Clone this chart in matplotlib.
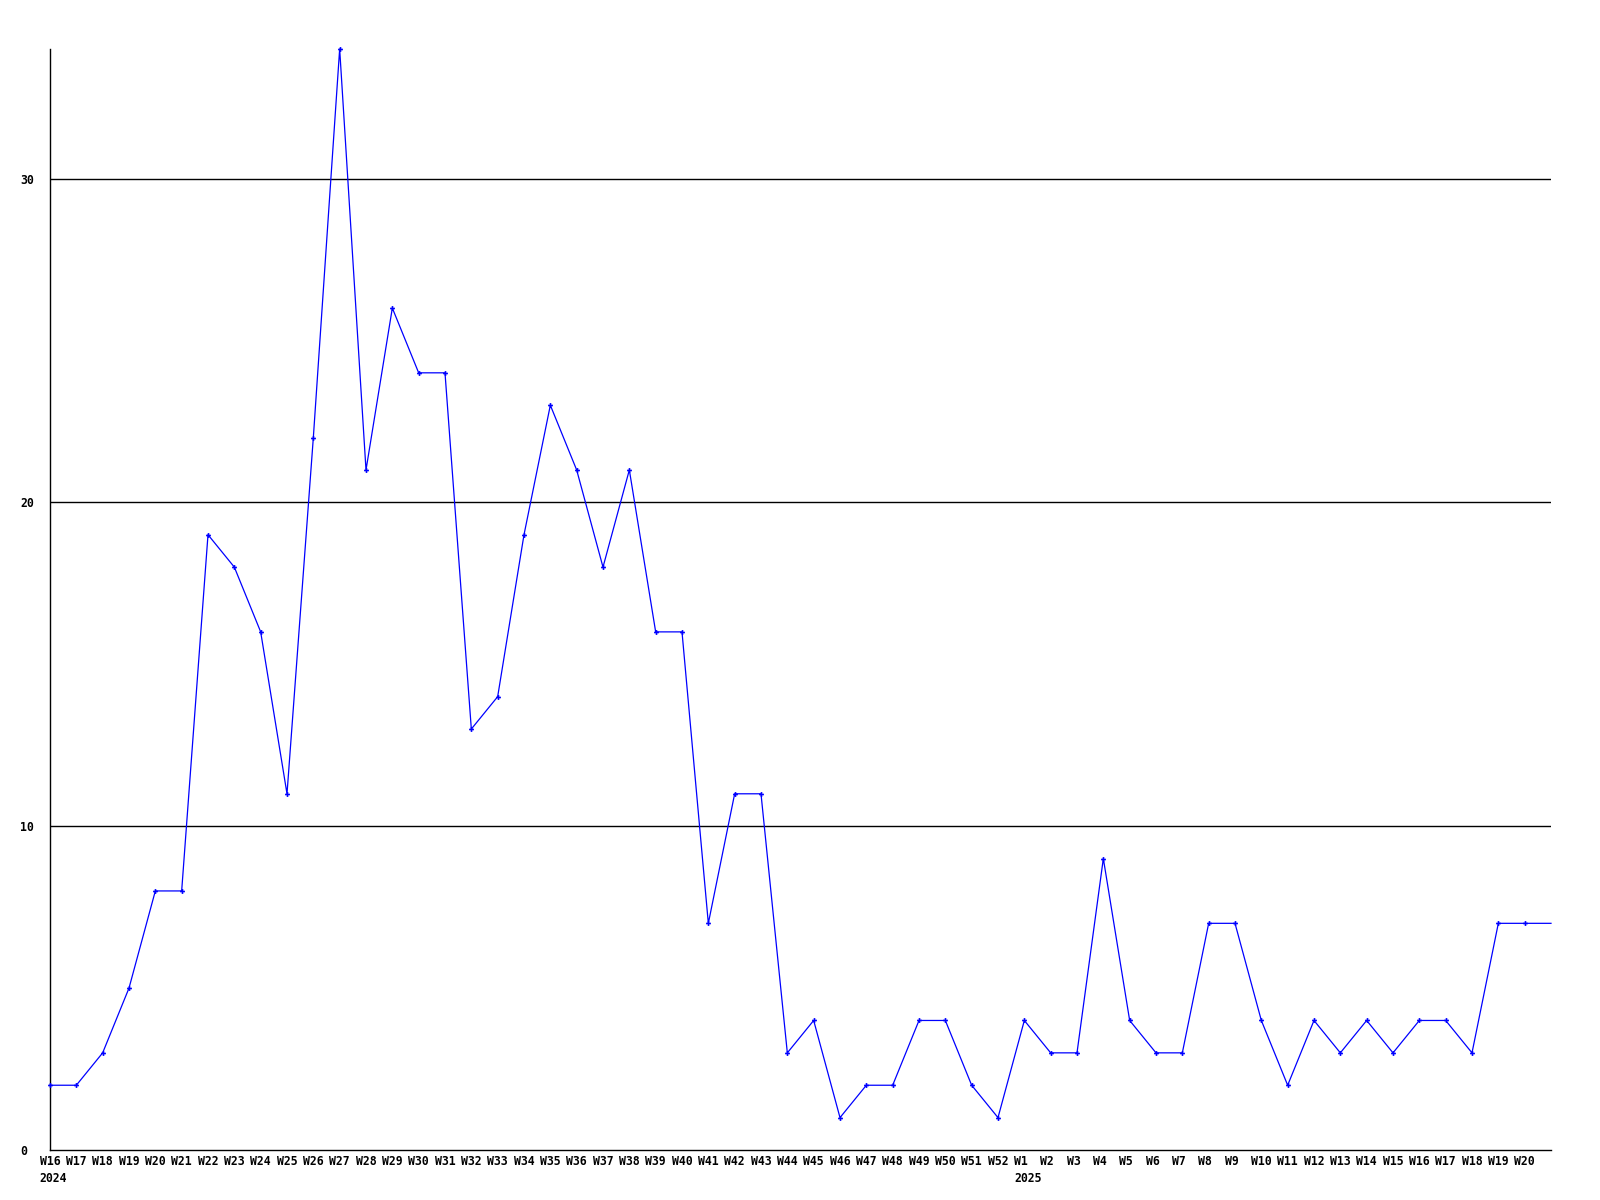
import numpy as np
import matplotlib
matplotlib.use("Agg")
import matplotlib.pyplot as plt
from matplotlib.transforms import ScaledTranslation

weeks_2024 = [f"W{w}" for w in range(16, 53)]
weeks_2025 = [f"W{w}" for w in range(1, 22)]

values_2024 = [2, 2, 3, 5, 8, 8, 19, 18, 16, 11, 22, 34, 21, 26, 24, 24,
               13, 14, 19, 23, 21, 18, 21, 16, 16, 7, 11, 11, 3, 4, 1, 2,
               2, 4, 4, 2, 1]
values_2025 = [4, 3, 3, 9, 4, 3, 3, 7, 7, 4, 2, 4, 3, 4, 3, 4, 4, 3, 7, 7, 7]

labels = weeks_2024 + weeks_2025
values = values_2024 + values_2025
x = np.arange(len(values))

# tick labels: the last week (W21) has no label in the original
tick_labels = []
for i, lab in enumerate(labels[:-1]):
    if lab == "W16" and i == 0:
        tick_labels.append(lab + "\n2024")
    elif lab == "W1":
        tick_labels.append(lab + "\n2025")
    else:
        tick_labels.append(lab)

fig = plt.figure(figsize=(16, 12), dpi=100)
ax = fig.add_axes([50 / 1600, 50 / 1200, 1501 / 1600, 1101 / 1200])

font = {"family": "DejaVu Sans Mono", "weight": "bold", "size": 8.3}

for yv in [10, 20, 30]:
    ax.axhline(yv, color="black", lw=1.0, zorder=1)

ax.plot(x, values, color="#0000ff", lw=0.9, zorder=3, clip_on=False)
ax.plot(x[:-1], values[:-1], ls="none", marker="P", ms=3.5,
        color="#0000ff", mew=0, zorder=4, clip_on=False)

ax.set_xlim(0, len(values) - 1)
ax.set_ylim(0, 34)

ax.spines["top"].set_visible(False)
ax.spines["right"].set_visible(False)
ax.spines["left"].set_linewidth(1.0)
ax.spines["bottom"].set_linewidth(1.0)

# x labels: left edge sits ~10px left of each point
ax.set_xticks(x[:-1])
ax.set_xticklabels([])
ax.tick_params(axis="x", length=0)
lab_trans = ax.get_xaxis_transform() + ScaledTranslation(-10.3 / 100, -5 / 100, fig.dpi_scale_trans)
for xi, lab in zip(x[:-1], tick_labels):
    ax.text(xi, 0, lab, transform=lab_trans, ha="left", va="top",
            multialignment="left", linespacing=1.45, **font)

ax.set_yticks([0, 10, 20, 30])
ax.set_yticklabels(["0", "10", "20", "30"], fontdict=font)
for t in ax.get_yticklabels():
    t.set_horizontalalignment("left")
ax.tick_params(axis="y", length=0, pad=21.5)

fig.savefig("out.png", dpi=100, facecolor="white")
